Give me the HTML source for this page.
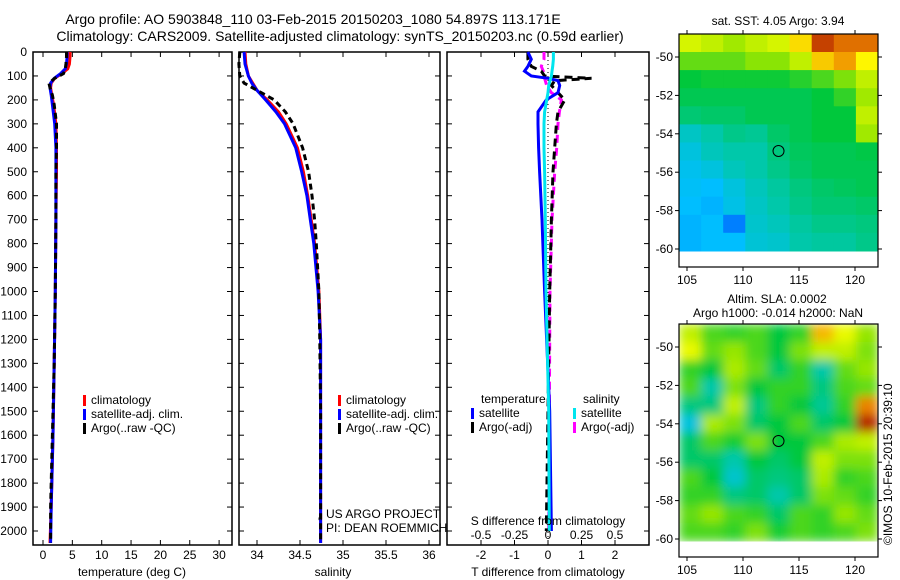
<!DOCTYPE html>
<html><head><meta charset="utf-8">
<style>
body{margin:0;background:#fff;}
svg{display:block;font-family:"Liberation Sans",sans-serif;}
text{fill:#000;}
</style></head>
<body>
<svg id="c" width="900" height="580" viewBox="0 0 900 580" xmlns="http://www.w3.org/2000/svg">
<defs>
<filter id="blur" x="0" y="0" width="1" height="1"><feGaussianBlur stdDeviation="5" edgeMode="duplicate"/></filter>
<clipPath id="clipTop"><rect x="679" y="34" width="199" height="218"/></clipPath>
<clipPath id="clipBot"><rect x="679" y="324" width="199" height="218"/></clipPath>
</defs>
<text x="313" y="24" font-size="14" text-anchor="middle">Argo profile: AO 5903848_110 03-Feb-2015 20150203_1080 54.897S 113.171E</text>
<text x="340" y="41" font-size="14" text-anchor="middle">Climatology: CARS2009. Satellite-adjusted climatology: synTS_20150203.nc (0.59d earlier)</text>
<g id="g"></g>
</svg>
<script>
// ---- data ----
var depthLabels = [0,100,200,300,400,500,600,700,800,900,1000,1100,1200,1300,1400,1500,1600,1700,1800,1900,2000];
var depthT = [0,20,50,70,90,110,130,150,180,220,300,400,500,700,1000,1300,1600,1900,2050];
var tClim = [4.6,4.6,4.5,4.2,3.2,2.0,1.4,1.3,1.5,1.8,2.2,2.3,2.3,2.2,2.1,1.9,1.7,1.4,1.2];
var tSat  = [4.1,4.1,4.0,3.8,3.0,1.9,1.3,1.2,1.4,1.6,2.0,2.2,2.2,2.2,2.1,1.9,1.7,1.4,1.3];
var tArgo = [4.0,4.0,3.9,3.8,3.5,2.0,1.0,1.2,1.6,1.9,2.3,2.3,2.2,2.2,2.1,1.9,1.6,1.3,1.3];
var tTicks = [0,5,10,15,20,25,30];
var depthS = [0,50,100,130,160,200,250,300,400,500,600,700,800,1000,1200,1500,2000,2050];
var sClim = [33.86,33.87,33.9,33.95,34.0,34.12,34.25,34.34,34.47,34.54,34.59,34.63,34.67,34.72,34.74,34.74,34.74,34.74];
var sSat  = [33.85,33.86,33.9,33.94,34.0,34.1,34.22,34.32,34.45,34.52,34.58,34.62,34.66,34.71,34.74,34.74,34.74,34.74];
var sArgo = [33.8,33.79,33.8,33.85,34.0,34.2,34.33,34.42,34.53,34.6,34.64,34.67,34.69,34.72,34.73,34.74,34.74,34.74];
var sTicks = [34,34.5,35,35.5,36];
var sTickLabels = ["34","34.5","35","35.5","36"];
var depthD = [0,30,60,80,100,110,120,140,170,200,250,300,400,500,700,1000,1500,2000];
var dTSat  = [-0.6,-0.5,-0.6,-0.7,-0.5,0.0,0.3,0.35,0.3,-0.05,-0.3,-0.3,-0.28,-0.25,-0.18,-0.1,0.05,0.1];
var dTArgo = [-0.6,-0.6,-0.5,-0.2,-0.1,1.3,0.2,0.1,0.3,0.5,0.3,0.25,0.2,0.15,0.1,0.05,0,-0.05];
var dSSat  = [0.04,0.04,0.035,0.03,0.025,0.02,0.015,0.005,0,-0.01,-0.025,-0.03,-0.03,-0.025,-0.02,-0.015,0.005,0.01];
var dSArgo = [-0.03,-0.03,-0.05,-0.035,-0.025,-0.025,-0.02,-0.01,0.025,0.1,0.085,0.075,0.065,0.05,0.03,0.015,0.01,0.005];
var dTTicks = [-2,-1,0,1,2];
var dSTicks = [-0.5,-0.25,0,0.25,0.5];
var dSTickLabels = ["-0.5","-0.25","0","0.25","0.5"];
var mapLatTicks = [-50,-52,-54,-56,-58,-60];
var mapLonTicks = [105,110,115,120];
var sstGrid = [
[6,5.8,5.5,5.8,6,6.8,8.5,8,8],
[5,5,5,5.3,5.3,5.8,7,7.5,6.5],
[4.2,4.3,4.3,4.3,4.3,4.5,4.8,5.2,5.8],
[4,4,4,4,4,4,4.2,4.6,5.5],
[3.7,3.8,3.8,4,4,4,4.2,4.2,5.8],
[2.9,3.2,3.5,3.4,3.8,4,4.2,4.2,5.5],
[2.6,3,3.2,3.2,3.6,3.9,4,4,4.1],
[2.4,2.6,3,3.2,3.5,3.8,4,4,4],
[2.3,2.2,2.6,3,3.3,3.6,3.8,3.9,4],
[2.2,2.1,2.5,2.9,3.2,3.5,3.7,3.7,3.8],
[2.1,2.2,1.6,2.8,3,3.3,3.5,3.5,3.6],
[2.1,2.2,2.2,2.7,2.8,3.2,3.3,3.3,3.5]];
var slaGrid = [
[0.8,0.3,0.2,0.3,0,0.2,1.5,1,0.6],
[1,0.4,0.6,0.3,0,0.5,0.8,0.8,0.5],
[0.2,0,0.7,0.4,-0.2,0.2,-0.5,0.4,0.6],
[0.3,-0.5,0.5,0,0.2,0.2,-0.3,0.3,0.4],
[-0.3,-0.3,0.8,-0.3,0.2,0,-0.4,0.2,1.8],
[-0.8,0.7,0.5,-0.2,0,0.3,-0.2,0,2.3],
[-0.2,0.3,0.1,0.5,0,0,0.3,0.7,0.8],
[-0.2,-0.2,-0.5,0,-0.2,0,0.8,0.5,0.5],
[0.3,0,-0.7,-0.2,-0.3,-0.2,0.7,0.2,0.3],
[0.2,0.2,-0.3,-0.2,-0.5,-0.2,0.5,0.4,0.2],
[0.4,0.6,0.3,0.2,-0.2,0.3,0.2,0.6,0.4],
[0.3,0.3,0.2,0.5,0.1,0.3,0.2,0.3,0.5]];
var argoLon = 113.171, argoLat = -54.897;

// ---- helpers ----
var NS="http://www.w3.org/2000/svg", G=document.getElementById('g');
function el(tag,attrs,parent){var e=document.createElementNS(NS,tag);for(var k in attrs)e.setAttribute(k,attrs[k]);(parent||G).appendChild(e);return e;}
function txt(x,y,s,size,anchor,parent){var t=el('text',{x:x,y:y,'font-size':size,'text-anchor':anchor||'start'},parent);t.textContent=s;return t;}
var Y0=52, KY=0.2395, PB=545;
function yD(d){return Y0+d*KY;}
function xT(v){return 43+v*5.87;}
function xS(v){return 257+(v-34)*86;}
function xDT(v){return 548+v*33.5;}
function xDS(v){return 548+v*134;}
function line(xs,ys,fx,color,dash,name){
  var p=xs.map(function(v,i){return fx(v).toFixed(1)+','+yD(ys[i]).toFixed(1);}).join(' ');
  var e=el('polyline',{points:p,fill:'none',stroke:color,'stroke-width':3,'stroke-dasharray':dash||'none'});
  
  
}
function frame(x0,x1,name){
  var r=el('rect',{x:x0,y:Y0,width:x1-x0,height:PB-Y0,fill:'none',stroke:'#000','stroke-width':1.5});
  
  
  depthLabels.forEach(function(d){el('line',{x1:x0,x2:x0+5,y1:yD(d),y2:yD(d),stroke:'#000'});el('line',{x1:x1-5,x2:x1,y1:yD(d),y2:yD(d),stroke:'#000'});});
}
function xticks(vals,fx,labels,ylab){
  vals.forEach(function(v,i){var x=fx(v);el('line',{x1:x,x2:x,y1:PB,y2:PB-5,stroke:'#000'});el('line',{x1:x,x2:x,y1:Y0,y2:Y0+5,stroke:'#000'});
    var t=txt(x,ylab,labels[i],12,'middle');
    
    });
}
function legend(x,y,items){
  items.forEach(function(it,i){el('rect',{x:x,y:y+i*14-9,width:3,height:11,fill:it[0]});
    var t=txt(x+8,y+i*14,it[1],12);
    
    });
}

// ---- panel 1: temperature ----
frame(33,232,'temperature-panel');
depthLabels.forEach(function(d){var t=txt(27,yD(d)+4,String(d),12,'end');
  
  });
xticks(tTicks,xT,tTicks.map(String),559);
var t1=txt(132,576,'temperature (deg C)',12,'middle');


line(tClim,depthT,xT,'#ff0000',null,'temperature-climatology-line');
line(tSat,depthT,xT,'#0000ff',null,'temperature-satellite-line');
line(tArgo,depthT,xT,'#000',"6,4",'temperature-argo-line');
legend(83,404,[['#ff0000','climatology'],['#0000ff','satellite-adj. clim.'],['#000','Argo(..raw -QC)']]);

// ---- panel 2: salinity ----
frame(239,440,'salinity-panel');
xticks(sTicks,xS,sTickLabels,559);
var t2=txt(333,576,'salinity',12,'middle');


line(sClim,depthS,xS,'#ff0000',null,'salinity-climatology-line');
line(sSat,depthS,xS,'#0000ff',null,'salinity-satellite-line');
line(sArgo,depthS,xS,'#000',"6,4",'salinity-argo-line');
legend(338,404,[['#ff0000','climatology'],['#0000ff','satellite-adj. clim.'],['#000','Argo(..raw -QC)']]);
var c1=txt(326,518,'US ARGO PROJECT',12);
var c2=txt(326,532,'PI: DEAN ROEMMICH',12);
txt(318,526,'"',12);

// ---- panel 3: differences ----
frame(447,649,'difference-panel');
el('line',{x1:xDT(0),x2:xDT(0),y1:Y0,y2:PB,stroke:'#000','stroke-dasharray':'1,3'});
dTTicks.forEach(function(v){var x=xDT(v);el('line',{x1:x,x2:x,y1:PB,y2:PB-5,stroke:'#000'});el('line',{x1:x,x2:x,y1:Y0,y2:Y0+5,stroke:'#000'});
  var t=txt(x,559,String(v),12,'middle');});
line(dSArgo,depthD,xDS,'#ff00ff',"8,5",'salinity-diff-argo-line');
line(dTArgo,depthD,xDT,'#000',"8,5",'temperature-diff-argo-line');
line(dTSat,depthD,xDT,'#0000ff',null,'temperature-diff-satellite-line');
line(dSSat,depthD,xDS,'#00e5ee',null,'salinity-diff-satellite-line');
dSTicks.forEach(function(v,i){var t=txt(xDS(v),539,dSTickLabels[i],12,'middle');});
var t3=txt(548,525,'S difference from climatology',12,'middle');
var t4=txt(548,576,'T difference from climatology',12,'middle');
var lt=txt(481,403,'temperature',12);
legend(471,417,[['#0000ff','satellite'],['#000','Argo(-adj)']]);
var ls=txt(583,403,'salinity',12);
legend(573,417,[['#00e5ee','satellite'],['#ff00ff','Argo(-adj)']]);

// ---- maps ----
var stops=[[0,[0,0,130]],[0.12,[0,0,255]],[0.3,[0,190,255]],[0.4,[0,200,170]],[0.5,[0,200,60]],[0.62,[150,230,0]],[0.72,[255,255,0]],[0.85,[240,140,0]],[1,[160,0,0]]];
function cmap(t){t=Math.max(0,Math.min(1,t));for(var i=1;i<stops.length;i++){if(t<=stops[i][0]){var a=stops[i-1],b=stops[i],f=(t-a[0])/(b[0]-a[0]);
  return 'rgb('+[0,1,2].map(function(k){return Math.round(a[1][k]+f*(b[1][k]-a[1][k]));}).join(',')+')';}}return 'rgb(160,0,0)';}
function map(grid,norm,dy,clip,blur,name){
  var lonX=function(lon){return 687+(lon-105)*11.2;};
  var latY=function(lat){return 57+dy+(-50-lat)*19.2;};
  var x0=679,x1=878,yt=latY(-48.8),yb=latY(-60.1);
  var g=el('g',{'clip-path':'url(#'+clip+')'});
  var gi=el('g',blur?{filter:'url(#blur)'}:{},g);
  var nr=grid.length,nc=grid[0].length,cw=(x1-x0)/nc,ch=(yb-yt)/nr;
  grid.forEach(function(row,r){row.forEach(function(v,c){
    var cell=el('rect',{x:(x0+c*cw).toFixed(1),y:(yt+r*ch).toFixed(1),width:(cw+0.6).toFixed(1),height:(ch+0.6).toFixed(1),fill:cmap(norm(v))},gi);
    
    
  });});
  var fr=el('rect',{x:x0,y:34+dy,width:x1-x0,height:233,fill:'none',stroke:'#000','stroke-width':1.2});
  
  
  mapLatTicks.forEach(function(l){var y=latY(l);el('line',{x1:x0-4,x2:x0,y1:y,y2:y,stroke:'#000'});el('line',{x1:x1,x2:x1+4,y1:y,y2:y,stroke:'#000'});
    var t=txt(x0-6,y+4,String(l),12,'end');});
  mapLonTicks.forEach(function(l){var x=lonX(l);el('line',{x1:x,x2:x,y1:34+dy,y2:30+dy,stroke:'#000'});el('line',{x1:x,x2:x,y1:267+dy,y2:271+dy,stroke:'#000'});
    var t=txt(x,284+dy,String(l),12,'middle');});
  var m=el('circle',{cx:lonX(argoLon),cy:latY(argoLat),r:5.5,fill:'none',stroke:'#000','stroke-width':1});
  
  
}
map(sstGrid,function(v){return 0.3+(v-2.2)*0.1;},0,'clipTop',false,'sst-map');
map(slaGrid,function(v){return 0.5+v*0.2;},290,'clipBot',true,'sla-map');
var m1=txt(778,25,'sat. SST: 4.05 Argo: 3.94',12,'middle');
var m2=txt(777,303,'Altim. SLA: 0.0002',12,'middle');
var m3=txt(778,317,'Argo h1000: -0.014 h2000: NaN',12,'middle');
var cr=txt(0,0,'©IMOS 10-Feb-2015 20:39:10',12,'start');
cr.setAttribute('transform','translate(892,545) rotate(-90)');


</script>
</body></html>
